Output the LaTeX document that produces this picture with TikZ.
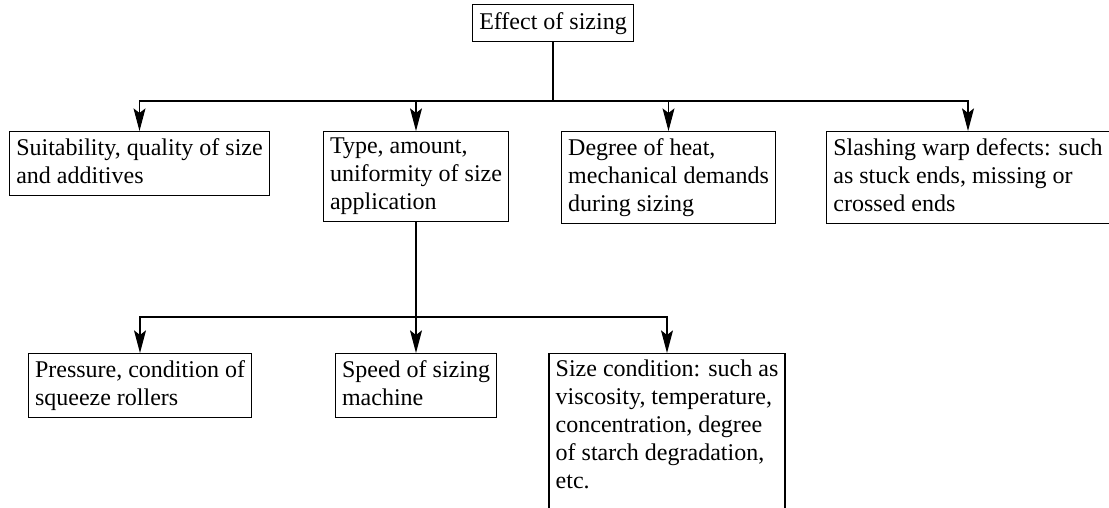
\documentclass[tikz,border=0pt]{standalone}
\usepackage{fontspec}
\setmainfont{Liberation Serif}
\usetikzlibrary{arrows.meta}
\begin{document}
\begin{tikzpicture}[x=0.75pt,y=-0.75pt,
        box/.style={draw,line width=0.8pt,align=left,anchor=north,inner sep=5pt,
          font=\fontsize{18}{21}\selectfont,
          execute at begin node={\rule{0pt}{0.75em}},
          execute at end node={\rule[-0.22em]{0pt}{0pt}}},
        link/.style={line width=0.8pt},
        arr/.style={line width=0.8pt,-{Stealth[length=17pt,width=9pt,inset=3.5pt]}}]
    \useasboundingbox (0,0) rectangle (1109,507);
    \node[box] (effect) at (553,4) {Effect of sizing};
    \node[box] (suit) at (139.5,131) {Suitability, quality of size\\and additives};
    \node[box] (type) at (416,131) {Type, amount,\\uniformity of size\\application};
    \node[box] (heat) at (668.5,131) {Degree of heat,\\mechanical demands\\during sizing};
    \node[box] (slash) at (968,131) {Slashing warp defects: such\\as stuck ends, missing or\\crossed ends};
    \node[box] (press) at (140,353) {Pressure, condition of\\squeeze rollers};
    \node[box] (speed) at (416,353) {Speed of sizing\\machine};
    \node[box] (cond) at (667,353) {Size condition: such as\\viscosity, temperature,\\concentration, degree\\of starch degradation,\\etc.\\ ~};
    \coordinate (fork1) at (553,101);
    \coordinate (fork2) at (416,317);
    \draw[link] (effect.south) -- (fork1);
    \draw[arr] (fork1) -| (suit.north);
    \draw[arr] (fork1) -| (type.north);
    \draw[arr] (fork1) -| (heat.north);
    \draw[arr] (fork1) -| (slash.north);
    \draw[link] (type.south) -- (fork2);
    \draw[arr] (fork2) -| (press.north);
    \draw[arr] (fork2) -- (speed.north);
    \draw[arr] (fork2) -| (cond.north);
\end{tikzpicture}
\end{document}
